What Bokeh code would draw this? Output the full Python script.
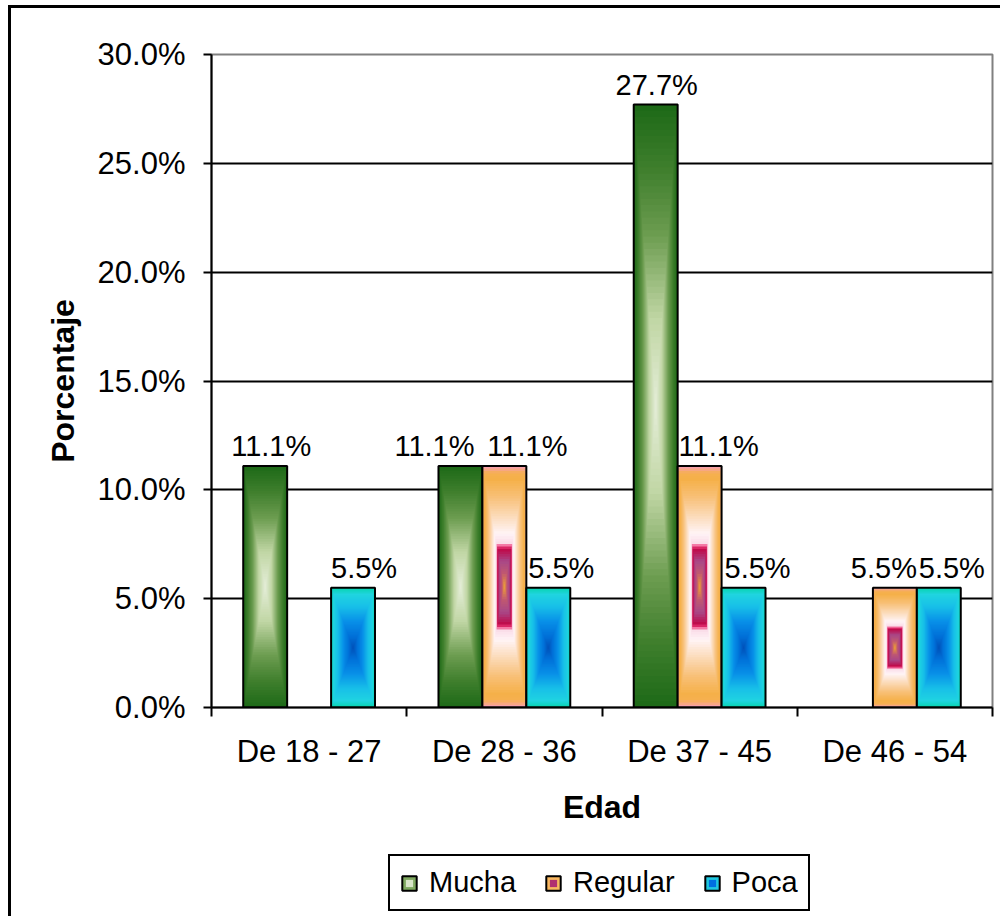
from bokeh.plotting import figure
from bokeh.layouts import column
from bokeh.models import (ColumnDataSource, FixedTicker, NumeralTickFormatter, Range1d,
                          Legend, LegendItem)
from bokeh.core.properties import value
from bokeh.embed import file_html
from bokeh.resources import INLINE

# ---------------- data ----------------
categories = ["De 18 - 27", "De 28 - 36", "De 37 - 45", "De 46 - 54"]
series_names = ["Mucha", "Regular", "Poca"]
mucha = [0.111, 0.111, 0.277, 0.0]
regular = [0.0, 0.111, 0.111, 0.055]
poca = [0.055, 0.055, 0.055, 0.055]
y_ticks = [0.0, 0.05, 0.10, 0.15, 0.20, 0.25, 0.30]

# ---------------- style ----------------
FONT = "Liberation Sans"
LABEL_FS = "29px"
TICK_FS = "31px"
TITLE_FS = "32px"

# horizontal pixel nudges of the value labels (layout only)
label_dx = {"Mucha": [6, -26, 1, 0], "Regular": [0, 23, 19, -11], "Poca": [11, 13, 14, 13]}

# gradient stops (t = 0 centre, t = 1 edge) -- rectangular "from centre" fills
stops = {
    "Mucha": [(0.0, "#E6EEDA"), (0.3, "#C0D6A4"), (0.58, "#6C9C50"),
              (0.8, "#3E7E2C"), (1.0, "#1E6A18")],
    "Regular": [(0.0, "#F2A830"), (0.12, "#C05870"), (0.22, "#A84888"),
                (0.32, "#C00848"), (0.345, "#F04080"), (0.37, "#FADCE8"),
                (0.45, "#FFF4F6"), (0.75, "#F8C078"), (0.9, "#F5B048"),
                (0.95, "#F6B050"), (1.0, "#F7A0A8")],
    "Poca": [(0.0, "#0050B8"), (0.2, "#0070D8"), (0.45, "#0890E8"),
             (0.7, "#18C0E8"), (0.9, "#20D4E0"), (1.0, "#08D4B0")],
}
legend_colors = {
    "Mucha": ("#7FA860", "#D8E4C8"),
    "Regular": ("#F8B860", "#B03070"),
    "Poca": ("#20C8E0", "#0070E0"),
}


def hex2rgb(h):
    h = h.lstrip("#")
    return tuple(int(h[i:i + 2], 16) for i in (0, 2, 4))


def interp(st, t):
    for (t0, c0), (t1, c1) in zip(st[:-1], st[1:]):
        if t0 <= t <= t1:
            f = 0 if t1 == t0 else (t - t0) / (t1 - t0)
            a, b = hex2rgb(c0), hex2rgb(c1)
            r = [round(a[i] + (b[i] - a[i]) * f) for i in range(3)]
            return "#%02x%02x%02x" % tuple(r)
    return st[-1][1]


bw = 0.225
offsets = {"Mucha": -bw, "Regular": 0.0, "Poca": bw}
data = {"Mucha": mucha, "Regular": regular, "Poca": poca}

W = 989
p = figure(width=W, height=840, output_backend="svg", toolbar_location=None,
           x_range=Range1d(0, 4), y_range=Range1d(0, 0.30),
           min_border_left=200, min_border_top=46, min_border_right=8,
           min_border_bottom=141, background_fill_color="white",
           border_fill_color="white")

p.outline_line_color = "#808080"
p.outline_line_width = 2

N = 48
for name in series_names:
    vals = data[name]
    xs, ys, ws, hs, cs = [], [], [], [], []
    bx, bt, bdx = [], [], []
    for i, v in enumerate(vals):
        if v <= 0:
            continue
        xc = i + 0.5 + offsets[name]
        bx.append(xc)
        bt.append(v)
        bdx.append(label_dx[name][i])
        for k in range(N):
            t = 1 - k / N
            xs.append(xc)
            ys.append(v / 2)
            ws.append(bw * t)
            hs.append(v * t)
            cs.append(interp(stops[name], t))
    src = ColumnDataSource(dict(x=xs, y=ys, w=ws, h=hs, c=cs))
    p.rect(x="x", y="y", width="w", height="h", fill_color="c", line_color=None,
           source=src)
    p.vbar(x=bx, top=bt, width=bw, bottom=0, fill_color=None, line_color="black",
           line_width=2)
    labels = ["%.1f%%" % (v * 100) for v in bt]
    lsrc = ColumnDataSource(dict(x=bx, y=bt, text=labels, dx=bdx))
    p.text(x="x", y="y", text="text", x_offset="dx", source=lsrc, text_align="center",
           text_baseline="alphabetic", y_offset=-20, text_font=value(FONT),
           text_font_size=LABEL_FS, text_color="black")

# axes
p.xgrid.visible = False
p.ygrid.ticker = FixedTicker(ticks=y_ticks[1:-1])
p.ygrid.grid_line_color = "black"
p.ygrid.grid_line_width = 2

xa = p.xaxis[0]
xa.ticker = FixedTicker(ticks=[i + 0.5 for i in range(len(categories))],
                        minor_ticks=[float(i) for i in range(len(categories) + 1)])
xa.major_label_overrides = {i + 0.5: c for i, c in enumerate(categories)}
xa.major_tick_out = 0
xa.major_tick_in = 0
xa.minor_tick_out = 9
xa.minor_tick_in = 0
xa.minor_tick_line_color = "black"
xa.minor_tick_line_width = 2
xa.axis_line_width = 2
xa.axis_line_color = "black"
xa.major_label_standoff = 17
xa.major_label_text_font = FONT
xa.major_label_text_font_size = TICK_FS
xa.major_label_text_color = "black"
xa.axis_label = "Edad"
xa.axis_label_text_font = FONT
xa.axis_label_text_font_size = TITLE_FS
xa.axis_label_text_font_style = "bold"
xa.axis_label_standoff = 17
xa.axis_label_text_color = "black"

ya = p.yaxis[0]
ya.ticker = FixedTicker(ticks=y_ticks, minor_ticks=[])
ya.formatter = NumeralTickFormatter(format="0.0%")
ya.major_tick_out = 8
ya.major_tick_in = 0
ya.major_tick_line_width = 2
ya.major_tick_line_color = "black"
ya.axis_line_width = 2
ya.axis_line_color = "black"
ya.major_label_standoff = 18
ya.major_label_text_font = FONT
ya.major_label_text_font_size = TICK_FS
ya.major_label_text_color = "black"
ya.axis_label = "Porcentaje"
ya.axis_label_text_font = FONT
ya.axis_label_text_font_size = TITLE_FS
ya.axis_label_text_font_style = "bold"
ya.axis_label_standoff = 14
ya.axis_label_text_color = "black"

# legend strip (second figure under the chart)
pl = figure(width=W, height=68, output_backend="svg", toolbar_location=None,
            x_range=Range1d(0, 1), y_range=Range1d(0, 1),
            x_axis_location=None, y_axis_location=None,
            min_border=0, background_fill_color="white", border_fill_color="white")
pl.outline_line_color = None
pl.xgrid.visible = False
pl.ygrid.visible = False

items = []
for name in series_names:
    outer, inner = legend_colors[name]
    r1 = pl.rect(x=[-5], y=[-5], width=1, height=1, fill_color=outer,
                 line_color="black", line_width=2)
    r2 = pl.scatter(x=[-5], y=[-5], marker="square", size=6, fill_color=inner,
                    line_color=None)
    items.append(LegendItem(label=name, renderers=[r1, r2]))

legend = Legend(items=items, orientation="horizontal", location=(177, 5),
                border_line_color="black", border_line_width=2, border_line_alpha=1,
                label_text_font=FONT, label_text_font_size=LABEL_FS,
                label_text_color="black",
                glyph_width=18, glyph_height=18, label_standoff=11, spacing=28,
                padding=10, margin=0, background_fill_alpha=1)
pl.add_layout(legend, "center")

layout = column(p, pl, spacing=0)
layout.styles = {"border-left": "3px solid black", "border-top": "3px solid black",
                 "margin-left": "8px", "margin-top": "5px"}

open("out.html", "w").write(file_html(layout, INLINE))
